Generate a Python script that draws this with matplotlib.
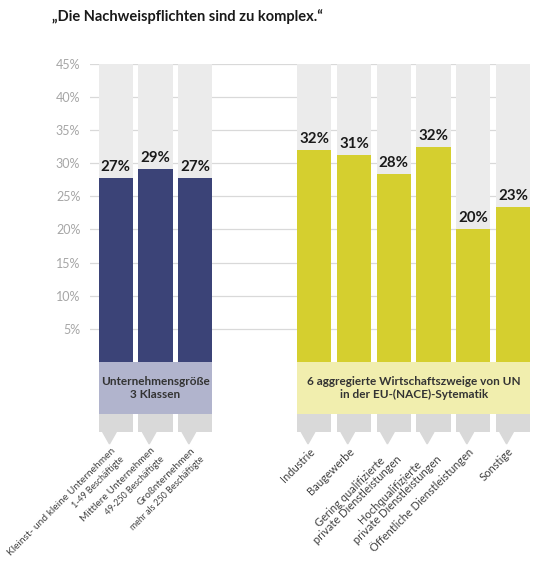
import matplotlib.pyplot as plt
from matplotlib.patches import Polygon

plt.rcParams['font.family'] = ['Lato', 'DejaVu Sans']

title = '„Die Nachweispflichten sind zu komplex.“'

size_group = 'Unternehmensgröße\n3 Klassen'
size_names = ['Kleinst- und kleine Unternehmen', 'Mittlere Unternehmen', 'Großnternehmen']
size_notes = ['1-49 Beschäftigte', '49-250 Beschäftigte', 'mehr als 250 Beschäftigte']
size_values = [27.7, 29.1, 27.7]
size_labels = ['27%', '29%', '27%']

sector_group = '6 aggregierte Wirtschaftszweige von UN\nin der EU-(NACE)-Sytematik'
sector_names = ['Industrie', 'Baugewerbe',
                'Gering qualifizierte\nprivate Dienstleistungen',
                'Hochqualifizierte\nprivate Dienstleistungen',
                'Öffentliche Dienstleistungen', 'Sonstige']
sector_values = [32.0, 31.2, 28.3, 32.4, 20.0, 23.4]
sector_labels = ['32%', '31%', '28%', '32%', '20%', '23%']

yticks = [5, 10, 15, 20, 25, 30, 35, 40, 45]

size_x = [0, 1, 2]
sector_x = [5, 6, 7, 8, 9, 10]

navy = '#3b4377'
yellow = '#d5cf2f'
bg_gray = '#ebebeb'
tab_gray = '#d9d9d9'

w = 0.86
band_depth = 7.85
tab_depth = 2.7
tip_depth = 1.8

fig = plt.figure(figsize=(5.4, 5.63), dpi=100)
ax = fig.add_axes([0.1667, 0.357, 0.8148, 0.530])
ax.set_xlim(-0.65, 10.43)
ax.set_ylim(0, 45)

for t in yticks:
    ax.axhline(t, color='#d9d9d9', lw=0.9, zorder=0)

all_x = size_x + sector_x
ax.bar(all_x, 45, width=w, color=bg_gray, zorder=1)
ax.bar(size_x, size_values, width=w, color=navy, zorder=2)
ax.bar(sector_x, sector_values, width=w, color=yellow, zorder=2)

for x, v, lab in zip(size_x + sector_x, size_values + sector_values,
                     size_labels + sector_labels):
    ax.annotate(lab, (x, v), xytext=(0, 3), textcoords='offset points',
                ha='center', va='bottom', fontsize=10.8, fontweight='bold',
                color='#1a1a1a')

# group bands under the bars
ax.bar(1, -band_depth, width=2 + w, color='#b1b4cd', clip_on=False, zorder=2)
ax.bar(7.5, -band_depth, width=5 + w, color='#f1eeae', clip_on=False, zorder=2)
ax.text(1, -band_depth / 2, size_group, ha='center', va='center',
        fontsize=8.5, fontweight='bold', color='#333333', linespacing=1.3)
ax.text(7.5, -band_depth / 2, sector_group, ha='center', va='center',
        fontsize=8.5, fontweight='bold', color='#333333', linespacing=1.3)

# tabs with little arrows
ax.bar(all_x, -tab_depth, bottom=-band_depth, width=w, color=tab_gray,
       clip_on=False, zorder=2)
top = -band_depth - tab_depth
tip = top - tip_depth
for x in all_x:
    tri = Polygon([(x - 0.33, top), (x + 0.01, top), (x - 0.16, tip)],
                  closed=True, color=tab_gray, clip_on=False, zorder=2)
    ax.add_patch(tri)

for x, name, note in zip(size_x, size_names, size_notes):
    ax.annotate(name, (x - 0.12, tip - 0.3), ha='right', va='top',
                rotation=45, rotation_mode='anchor', fontsize=7.3,
                color='#404040', annotation_clip=False)
    ax.annotate(note, (x - 0.12, tip - 0.3), xytext=(6.2, -6.2),
                textcoords='offset points', ha='right', va='top',
                rotation=45, rotation_mode='anchor', fontsize=6.3,
                color='#404040', annotation_clip=False)

for x, name in zip(sector_x, sector_names):
    ax.annotate(name, (x - 0.14, tip - 0.3), ha='right', va='top',
                rotation=45, rotation_mode='anchor', fontsize=8,
                color='#404040', multialignment='center',
                linespacing=1.0, annotation_clip=False)

ax.set_yticks(yticks)
ax.set_yticklabels([f'{t}%' for t in yticks], fontsize=9, color='#a6a6a6')
ax.tick_params(axis='y', length=0, pad=7)
ax.set_xticks([])
for s in ax.spines.values():
    s.set_visible(False)

fig.text(52 / 540, 1 - 17 / 563, title, ha='left', va='center',
         fontsize=10.5, fontweight='bold', color='#1a1a1a')

fig.savefig('out.png', dpi=100)
